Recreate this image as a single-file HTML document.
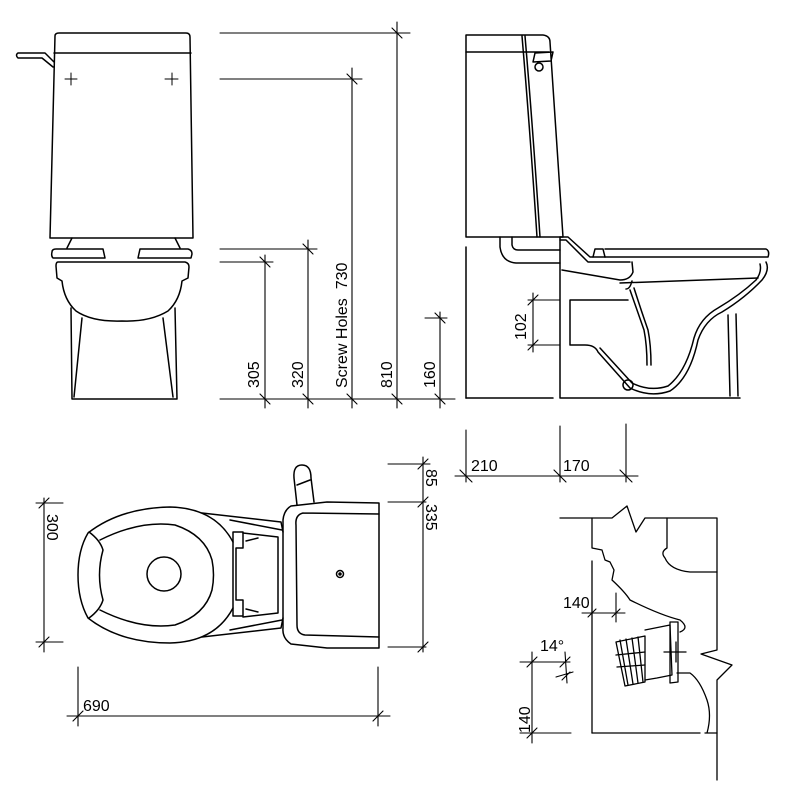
<!DOCTYPE html>
<html><head><meta charset="utf-8"><style>
html,body{margin:0;padding:0;background:#fff;width:800px;height:800px;overflow:hidden}
svg{display:block}
text{font-family:"Liberation Sans",Arial,sans-serif;font-size:16px;fill:#000;white-space:pre}
</style></head><body>
<svg width="800" height="800" viewBox="0 0 800 800" fill="none" stroke="#000" stroke-width="1.5" stroke-linejoin="round" stroke-linecap="round">
<!-- FRONT VIEW -->
<path d="M55,36 Q55,33 59,33 L186,33 Q190,33 190,37 L193,238 L50,238 Z"/>
<line x1="54" y1="53" x2="191" y2="53"/>
<path d="M54,62 L45,53 L18,53 Q15,55 18,58 L42,58 L53,67"/>
<path d="M65,79 H77 M71,73 V85 M165,79 H178 M172,73 V85" stroke-width="1"/>
<path d="M72,238 L67,248 M175,238 L180,248"/>
<path d="M52,252 Q52,249 56,249 L103,249 L105,258 L53,258 Q51,256 52,252 Z"/>
<path d="M140,249 L188,249 Q192,250 192,254 L191,258 L138,258 Z"/>
<path d="M58,262 L185,262 Q189,263 189,267 L188,278 L182,281 Q180,300 168,311 Q150,322 122,321 Q92,322 76,311 Q64,300 62,281 L57,278 L56,266 Q56,262 58,262 Z"/>
<path d="M71,308 L72,399 L177,399 L175,308"/>
<path d="M82,318 L74,397 M163,318 L173,397"/>
<!-- front dims -->
<g stroke-width="1.1">
<line x1="220" y1="33" x2="410" y2="33"/><line x1="397" y1="22" x2="397" y2="408"/>
<line x1="220" y1="79" x2="362" y2="79"/><line x1="352" y1="68" x2="352" y2="408"/>
<line x1="220" y1="249" x2="317" y2="249"/><line x1="308" y1="240" x2="308" y2="408"/>
<line x1="220" y1="262" x2="273" y2="262"/><line x1="265" y1="255" x2="265" y2="408"/>
<line x1="425" y1="318" x2="447" y2="318"/><line x1="440" y1="312" x2="440" y2="408"/>
<line x1="220" y1="399" x2="455" y2="399"/>
<path d="M392,28 L402,38 M347,74 L357,84 M303,244 L313,254 M260,257 L270,267 M435,313 L445,323 M260,394 L270,404 M303,394 L313,404 M347,394 L357,404 M392,394 L402,404 M435,394 L445,404"/>
</g>
<g stroke="none">
<text transform="translate(259,388) rotate(-90)">305</text>
<text transform="translate(303,388) rotate(-90)">320</text>
<text transform="translate(347,388) rotate(-90)">Screw Holes  730</text>
<text transform="translate(392,388) rotate(-90)">810</text>
<text transform="translate(435,388) rotate(-90)">160</text>
</g>
<!-- SIDE VIEW -->
<path d="M466,35 L543,35 Q550,36 550,42 L563,237 L466,237 Z"/>
<line x1="466" y1="52" x2="549" y2="52"/>
<path d="M522,36 Q530,130 537,237 M525,36 Q533,130 540,237"/>
<path d="M535,53 L553,52 L551,61 L533,62 Z"/><circle cx="539" cy="67" r="4"/>
<line x1="466" y1="247" x2="466" y2="398"/>
<line x1="466" y1="398" x2="553" y2="398"/>
<path d="M500,237 L500,247 Q502,262 516,263 L560,263 M512,237 L512,245 Q513,250 518,250 L560,250"/>
<path d="M560,237 L560,398 L740,398"/>
<path d="M560,237 L568,237 L590,257 L605,257"/>
<path d="M560,240 L566,240 L588,262 L630,262"/>
<path d="M593,257 L595,249 L603,249 L605,257"/>
<path d="M605,249 L766,249 Q770,251 768,257 L605,257"/>
<path d="M632,262 L633,272 Q630,280 620,280 L562,270"/>
<path d="M620,283 L758,278 M632,281 Q630,289 626,289"/>
<path d="M766,262 Q770,270 762,280 Q745,298 722,312 Q705,320 698,340 Q690,378 670,391 Q650,398 630,388 L598,352 Q595,345 585,345 L570,345 L570,300 L628,300"/>
<path d="M760,264 Q762,272 756,280 Q740,295 718,308 Q700,318 694,338 Q686,372 668,386 Q650,392 632,383 L600,348"/>
<path d="M630,290 Q637,310 644,330 Q647,345 647,365 M634,288 Q641,310 648,330 Q651,345 651,365"/>
<path d="M728,315 L730,396 M736,314 L738,396"/>
<circle cx="628" cy="385" r="5"/>
<g stroke-width="1.1">
<line x1="528" y1="300" x2="560" y2="300"/><line x1="528" y1="345" x2="560" y2="345"/>
<line x1="533" y1="293" x2="533" y2="352"/>
<path d="M528,305 L538,295 M528,350 L538,340"/>
</g>
<text stroke="none" transform="translate(526,340) rotate(-90)">102</text>
<!-- 210/170 -->
<g stroke-width="1.1">
<line x1="466" y1="430" x2="466" y2="482"/><line x1="560" y1="426" x2="560" y2="482"/><line x1="626" y1="424" x2="626" y2="482"/>
<line x1="455" y1="476" x2="638" y2="476"/>
<path d="M460,470 L472,482 M554,470 L566,482 M620,470 L632,482"/>
</g>
<text stroke="none" x="471" y="471">210</text><text stroke="none" x="563" y="471">170</text>
<!-- TOP VIEW -->
<path d="M233,542 Q215,508 170,507 Q120,508 88,533 Q78,550 78,575 Q78,600 88,618 Q120,643 170,643 Q215,642 233,608"/>
<path d="M89,532 Q100,540 103,550 Q96,575 103,600 Q100,610 89,618"/>
<path d="M100,540 Q140,520 175,525 Q205,535 212,560 Q215,575 212,590 Q205,615 175,625 Q140,630 100,610"/>
<circle cx="164" cy="574" r="17"/>
<path d="M202,513 L281,522 L283,532 M202,637 L281,628 L283,618"/>
<path d="M230,520 L282,530 M230,630 L282,620"/>
<path d="M233,532 L243,532 L243,548 L236,548 L236,600 L243,600 L243,616 L233,616 Z"/>
<path d="M243,533 L278,537 L278,613 L243,617 M246,541 L258,538 M246,609 L258,612"/>
<path d="M291,506 L327,502 L379,503 L379,648 L327,648 L291,644 Q282,638 283,628 L283,520 Q284,510 291,506 Z"/>
<path d="M303,513 Q295,515 296,525 L297,625 Q297,634 305,635 L379,637 M303,513 L379,514"/>
<circle cx="340" cy="574" r="3.5"/><circle cx="340" cy="574" r="1" fill="#000"/>
<path d="M297,505 L294,478 Q293,465 302,465 Q311,465 311,478 L314,502 M297,485 L310,480"/>
<g stroke-width="1.1">
<line x1="36" y1="503" x2="63" y2="503"/><line x1="36" y1="642" x2="63" y2="642"/><line x1="44" y1="498" x2="44" y2="652"/>
<path d="M39,508 L49,498 M39,647 L49,637"/>
<line x1="388" y1="464" x2="430" y2="464"/><line x1="388" y1="502" x2="426" y2="502"/><line x1="388" y1="647" x2="426" y2="647"/>
<line x1="423" y1="457" x2="423" y2="652"/>
<path d="M418,469 L428,459 M418,507 L428,497 M418,652 L428,642"/>
<line x1="67" y1="716" x2="390" y2="716"/><line x1="78" y1="667" x2="78" y2="726"/><line x1="378" y1="667" x2="378" y2="726"/>
<path d="M73,721 L83,711 M373,721 L383,711"/>
</g>
<g stroke="none">
<text transform="translate(47,514) rotate(90)">300</text>
<text transform="translate(426,469) rotate(90)">85</text>
<text transform="translate(426,504) rotate(90)">335</text>
<text x="83" y="711">690</text>
</g>
<!-- DETAIL -->
<g stroke-width="1.3">
<path d="M560,518 L612,518 L627,506 L636,532 L645,518 L717,518 L717,650 L701,654 L732,665 L717,680 L717,780"/>
<path d="M592,518 L592,548 L602,550 L605,560 L610,562 L614,570 L612,580 Q625,592 630,600 Q660,615 680,620 Q690,628 680,632"/>
<path d="M667,518 L667,548 Q660,552 665,558 Q670,570 690,572 L717,572"/>
<line x1="592" y1="561" x2="592" y2="733"/>
<line x1="592" y1="733" x2="700" y2="733"/>
<path d="M705,733 L717,733 M677,673 L690,673 Q700,680 707,700 Q712,715 707,733"/>
<path d="M645,630 L670,625 L672,675 L657,678 L645,680"/>
<path d="M670,622 L678,622 L678,682 L670,683 Z"/>
<path d="M616,642 L645,636 L645,682 L625,686 Z"/>
<path d="M620,640 L628,685 M626,639 L633,684 M632,638 L638,683 M638,637 L643,682 M616,655 L645,652 M617,667 L645,665"/>
<path d="M664,652 L686,652 M676,642 L676,662"/>
</g>
<g stroke-width="1.1">
<line x1="582" y1="613" x2="625" y2="613"/><line x1="616" y1="593" x2="616" y2="622"/>
<path d="M588,617 L596,609 M612,617 L620,609"/>
<line x1="532" y1="652" x2="532" y2="743"/>
<line x1="520" y1="662" x2="570" y2="662"/><line x1="520" y1="733" x2="571" y2="733"/>
<line x1="565" y1="652" x2="567" y2="683"/>
<line x1="556" y1="677" x2="573" y2="672"/>
<path d="M527,667 L537,657 M527,738 L537,728 M560,667 L570,657 M562,680 L570,672"/>
</g>
<g stroke="none">
<text x="563" y="608">140</text>
<text x="540" y="651">14°</text>
<text transform="translate(530,733) rotate(-90)">140</text>
</g>
</svg>
</body></html>
